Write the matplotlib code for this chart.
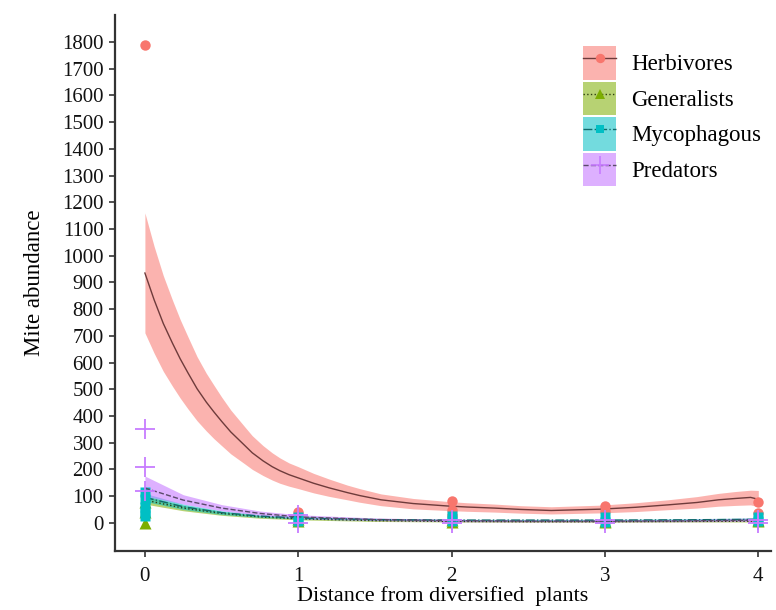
import matplotlib
matplotlib.use("Agg")
import matplotlib.pyplot as plt
from matplotlib.patches import Patch
from matplotlib.lines import Line2D
from matplotlib.legend_handler import HandlerTuple

plt.rcParams['font.family'] = ['Liberation Serif', 'DejaVu Serif']

groups = ["Herbivores", "Generalists", "Mycophagous", "Predators"]
colors = {"Herbivores": "#F8766D", "Generalists": "#7CAE00",
          "Mycophagous": "#00BFC4", "Predators": "#C77CFF"}

# fitted curves
herb_x = [0, 0.06, 0.12, 0.18, 0.23, 0.28, 0.34, 0.4, 0.45, 0.5, 0.56, 0.65, 0.7, 0.77, 0.83, 0.88, 0.94,
          1.0, 1.1, 1.2, 1.32, 1.4, 1.54, 1.75, 1.97, 2.1, 2.28, 2.45, 2.65, 2.97, 3.2, 3.41, 3.6, 3.74,
          3.85, 3.95, 4]
herb_fit = [935, 835, 746, 672, 614, 562, 502, 452, 415, 380, 340, 290, 262, 232, 210, 195, 180,
            168, 148, 131, 113, 102, 86, 72, 63, 59, 55, 50, 46, 51, 58, 67, 76, 86, 91, 95, 88]
herb_lo = [711, 635, 567, 511, 467, 427, 382, 344, 315, 289, 258, 221, 200, 177, 160, 148, 137,
           128, 112, 99, 86, 77, 64, 52, 46, 43, 40, 36, 33, 37, 42, 49, 55, 62, 65, 67, 60]
herb_hi = [1160, 1035, 925, 833, 761, 697, 622, 560, 515, 471, 422, 360, 326, 289, 262, 243, 224,
           210, 185, 164, 141, 128, 108, 91, 80, 75, 70, 64, 60, 66, 75, 86, 98, 110, 117, 122, 121]

oth_x = [0, 0.25, 0.5, 0.75, 1, 1.5, 2, 2.5, 3, 3.5, 4]
gen_fit = [85, 55, 35, 22, 15, 8, 5, 4, 4, 5, 6]
gen_lo = [70, 45, 28, 17, 11, 5, 3, 2, 2, 3, 3]
gen_hi = [100, 65, 42, 27, 20, 12, 8, 7, 7, 8, 10]
myc_fit = [95, 60, 38, 25, 18, 12, 10, 10, 10, 11, 13]
myc_lo = [80, 50, 31, 20, 14, 9, 7, 7, 7, 8, 9]
myc_hi = [110, 70, 45, 30, 23, 16, 13, 13, 13, 15, 18]
pred_fit = [130, 85, 55, 35, 22, 12, 8, 6, 6, 7, 10]
pred_lo = [100, 70, 45, 28, 15, 8, 4, 3, 3, 4, 5]
pred_hi = [175, 105, 68, 44, 30, 18, 13, 11, 11, 13, 18]

# observed points
herb_px = [0, 1, 1, 2, 2, 2, 3, 3, 4, 4]
herb_py = [1790, 42, 20, 80, 49, 30, 63, 45, 76, 37]
gen_px = [0, 0, 0, 1, 1, 2, 2, 3, 3, 4, 4]
gen_py = [0, 78, 40, 15, 5, 10, 3, 8, 2, 5, 10]
myc_px = [0, 0, 0, 0, 0, 1, 1, 2, 2, 3, 3, 4, 4]
myc_py = [115, 90, 60, 40, 25, 20, 5, 25, 5, 20, 3, 20, 5]
pred_px = [0, 0, 0, 1, 1, 2, 2, 3, 3, 4, 4]
pred_py = [350, 210, 120, 30, 0, 10, 0, 10, 0, 10, 0]

yticks = list(range(0, 1900, 100))
xticks = [0, 1, 2, 3, 4]

fig = plt.figure(figsize=(7.76, 6.10), dpi=100)
ax = fig.add_axes([0.148, 0.097, 0.845, 0.878])

specs = [
    ("Herbivores", herb_x, herb_fit, herb_lo, herb_hi, herb_px, herb_py, 'o', '-', '#6e3b3b', 0.55, 7.5),
    ("Generalists", oth_x, gen_fit, gen_lo, gen_hi, gen_px, gen_py, '^', ':', '#2f3f10', 0.55, 8),
    ("Mycophagous", oth_x, myc_fit, myc_lo, myc_hi, myc_px, myc_py, 's', '-.', '#106a6c', 0.55, 7),
    ("Predators", oth_x, pred_fit, pred_lo, pred_hi, pred_px, pred_py, '+', '--', '#5a4a6a', 0.6, 14),
]

handles = []
for name, xs, fit, lo, hi, px, py, mk, ls, lc, alpha, ms in specs:
    c = colors[name]
    ax.fill_between(xs, lo, hi, color=c, alpha=alpha, lw=0)
    ax.plot(xs, fit, ls=ls, color=lc, lw=1.0)
    if mk == '+':
        ax.plot(px, py, ls='none', marker=mk, color=c, ms=ms, mew=1.3)
    else:
        ax.plot(px, py, ls='none', marker=mk, color=c, ms=ms, mec='none')
    p = Patch(facecolor=c, alpha=alpha, edgecolor='none')
    l = Line2D([], [], ls=ls, color=lc, lw=1.0, marker=mk, mfc=c,
               mec=c if mk == '+' else 'none', ms=ms * 0.9, mew=1.2)
    handles.append((p, l))

ax.set_xlim(-0.196, 4.08)
ax.set_ylim(-105, 1900)
ax.set_xticks(xticks)
ax.set_yticks(yticks)
ax.tick_params(axis='both', direction='out', length=4, width=1.2, color='#333333',
               labelsize=15, labelcolor='#111111')
ax.tick_params(axis='x', pad=8)
ax.tick_params(axis='y', pad=4)
for s in ['top', 'right']:
    ax.spines[s].set_visible(False)
for s in ['left', 'bottom']:
    ax.spines[s].set_linewidth(1.6)
    ax.spines[s].set_color('#333333')

ax.set_xlabel("Distance from diversified  plants", fontsize=16, labelpad=0)
ax.set_ylabel("Mite abundance", fontsize=16.5, labelpad=12)

leg = ax.legend(handles, groups, handler_map={tuple: HandlerTuple(ndivide=1)},
                loc='upper left', bbox_to_anchor=(572 / 776, 1 - 35 / 610),
                bbox_transform=fig.transFigure, borderpad=0, frameon=False,
                fontsize=16.5, handlelength=1.4, handleheight=1.85,
                labelspacing=0.1, handletextpad=0.7)

fig.savefig("out.png", dpi=100)
